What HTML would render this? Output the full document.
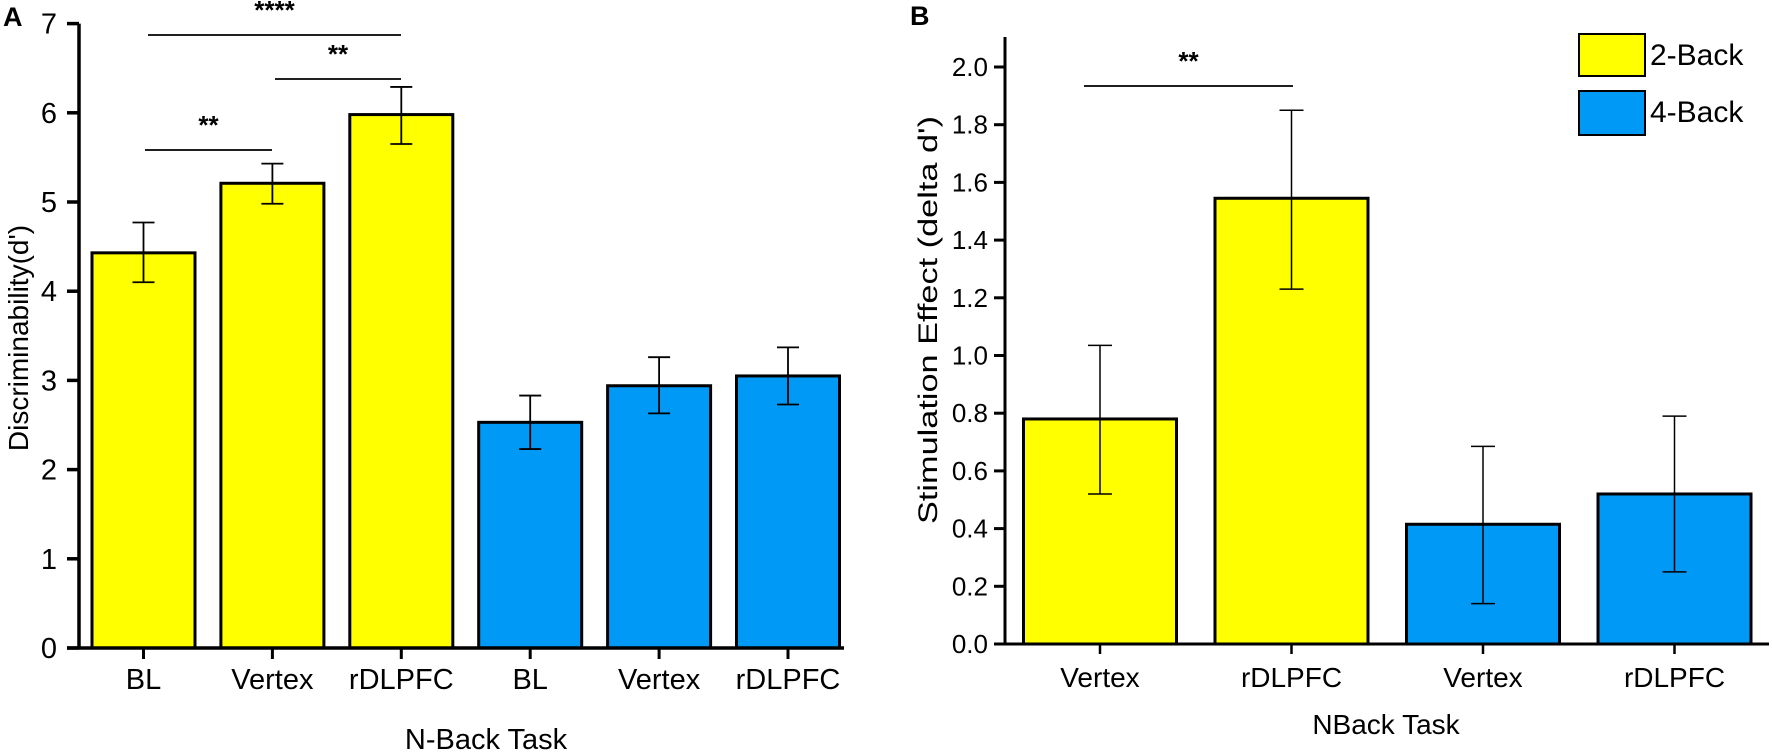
<!DOCTYPE html>
<html><head><meta charset="utf-8"><style>
html,body{margin:0;padding:0;background:#fff;}
svg{display:block;font-family:"Liberation Sans",Arial,sans-serif;}
</style></head><body>
<svg id="chart" width="1772" height="755" viewBox="0 0 1772 755" xmlns="http://www.w3.org/2000/svg"></svg>
<script>
// Panel A data
const catsA = ["BL","Vertex","rDLPFC","BL","Vertex","rDLPFC"];
const groupA = ["2","2","2","4","4","4"];
const valsA = [4.43, 5.21, 5.98, 2.53, 2.94, 3.05];
const loA = [4.10, 4.98, 5.65, 2.23, 2.63, 2.73];
const hiA = [4.77, 5.43, 6.29, 2.83, 3.26, 3.37];
const ticksA = [0,1,2,3,4,5,6,7];
// Panel B data
const catsB = ["Vertex","rDLPFC","Vertex","rDLPFC"];
const groupB = ["2","2","4","4"];
const valsB = [0.78, 1.545, 0.415, 0.52];
const loB = [0.52, 1.23, 0.14, 0.25];
const hiB = [1.035, 1.85, 0.685, 0.79];
const ticksB = [0.0,0.2,0.4,0.6,0.8,1.0,1.2,1.4,1.6,1.8,2.0];

const NS="http://www.w3.org/2000/svg";
const svg=document.getElementById('chart');
const YEL="#ffff00", BLU="#0099f5";
function mk(tag,attrs,parent){const e=document.createElementNS(NS,tag);for(const k in attrs)e.setAttribute(k,attrs[k]);(parent||svg).appendChild(e);return e;}
function txt(s,attrs,parent){const t=mk('text',attrs,parent);t.textContent=s;return t;}

// ---------- Panel A ----------
const gA=mk('g',{});


const yA=v=>648-v*89.2;
const xA0=79, stepA=128.9, bwA=103;
const xA=i=>143.5+i*stepA;
catsA.forEach((c,i)=>{
  const cx=xA(i);
  const r=mk('rect',{x:cx-bwA/2,y:yA(valsA[i]),width:bwA,height:yA(0)-yA(valsA[i]),fill:groupA[i]==="2"?YEL:BLU,stroke:"#000","stroke-width":3},gA);
  
  
  const e=mk('g',{stroke:"#000","stroke-width":1.8},gA);
  
  
  mk('line',{x1:cx,x2:cx,y1:yA(loA[i]),y2:yA(hiA[i])},e);
  mk('line',{x1:cx-11,x2:cx+11,y1:yA(loA[i]),y2:yA(loA[i])},e);
  mk('line',{x1:cx-11,x2:cx+11,y1:yA(hiA[i]),y2:yA(hiA[i])},e);
  mk('line',{x1:cx,x2:cx,y1:yA(0),y2:yA(0)+11,stroke:"#000","stroke-width":3},gA);
  const t=txt(c,{x:cx,y:689,"font-size":29,"text-anchor":"middle"},gA);
  
  
});
const axA=mk('g',{stroke:"#000","stroke-width":3.5},gA);


mk('line',{x1:xA0,x2:xA0,y1:yA(7),y2:yA(0)+1.5},axA);
mk('line',{x1:xA0-12,x2:844,y1:yA(0),y2:yA(0)},axA);
ticksA.forEach(v=>{
  mk('line',{x1:xA0-12,x2:xA0,y1:yA(v),y2:yA(v)},axA);
  const t=txt(String(v),{x:xA0-22,y:yA(v)+10,"font-size":29,"text-anchor":"end"},gA);
  
  
});
let t;
t=txt("Discriminability(d')",{x:0,y:0,"font-size":28,"text-anchor":"middle",transform:"translate(28,338) rotate(-90)"},gA);

t=txt("N-Back Task",{x:486,y:749,"font-size":29,"text-anchor":"middle"},gA);

t=txt("A",{x:3,y:26,"font-size":27,"font-weight":"bold"},gA);

function sig(g,x1,x2,y,label,name){
  const s=mk('g',{},g);
  
  
  mk('line',{x1:x1,x2:x2,y1:y,y2:y,stroke:"#000","stroke-width":1.8},s);
  txt(label,{x:(x1+x2)/2,y:y-16,"font-size":26,"text-anchor":"middle","font-weight":"bold"},s);
}
sig(gA,148,401,35,"****","sig-bl-rdlpfc");
sig(gA,275,401,79,"**","sig-vertex-rdlpfc");
sig(gA,145,272,150,"**","sig-bl-vertex");

// ---------- Panel B ----------
const gB=mk('g',{});


const yB=v=>644-v*288.5;
const xB0=1005, stepB=191.5, bwB=153;
const xB=i=>1100+i*stepB;
catsB.forEach((c,i)=>{
  const cx=xB(i);
  const r=mk('rect',{x:cx-bwB/2,y:yB(valsB[i]),width:bwB,height:yB(0)-yB(valsB[i]),fill:groupB[i]==="2"?YEL:BLU,stroke:"#000","stroke-width":3},gB);
  
  
  const e=mk('g',{stroke:"#000","stroke-width":1.5},gB);
  
  
  mk('line',{x1:cx,x2:cx,y1:yB(loB[i]),y2:yB(hiB[i])},e);
  mk('line',{x1:cx-12,x2:cx+12,y1:yB(loB[i]),y2:yB(loB[i])},e);
  mk('line',{x1:cx-12,x2:cx+12,y1:yB(hiB[i]),y2:yB(hiB[i])},e);
  mk('line',{x1:cx,x2:cx,y1:yB(0),y2:yB(0)+10,stroke:"#000","stroke-width":2.5},gB);
  const tt=txt(c,{x:cx,y:687,"font-size":28,"text-anchor":"middle"},gB);
  
  
});
const axB=mk('g',{stroke:"#000","stroke-width":3},gB);


mk('line',{x1:xB0,x2:xB0,y1:37,y2:yB(0)+1},axB);
mk('line',{x1:xB0-11,x2:1769,y1:yB(0),y2:yB(0)},axB);
ticksB.forEach(v=>{
  mk('line',{x1:xB0-11,x2:xB0,y1:yB(v),y2:yB(v)},axB);
  const tt=txt(v.toFixed(1),{x:988,y:yB(v)+9,"font-size":26,"text-anchor":"end"},gB);
  
  
});
t=txt("Stimulation Effect (delta d')",{x:0,y:0,"font-size":27,"text-anchor":"middle",textLength:408,lengthAdjust:"spacingAndGlyphs",transform:"translate(937,320) rotate(-90)"},gB);

t=txt("NBack Task",{x:1386,y:734,"font-size":28,"text-anchor":"middle"},gB);

t=txt("B",{x:910,y:25,"font-size":27,"font-weight":"bold"},gB);

sig(gB,1084,1293,86,"**","sig-vertex-rdlpfc-b");
// legend
const lg=mk('g',{},gB);


const le1=mk('g',{},lg);


mk('rect',{x:1579,y:34,width:66,height:42,fill:YEL,stroke:"#000","stroke-width":2},le1);
txt("2-Back",{x:1650,y:65,"font-size":30},le1);
const le2=mk('g',{},lg);


mk('rect',{x:1579,y:91,width:66,height:44,fill:BLU,stroke:"#000","stroke-width":2},le2);
txt("4-Back",{x:1650,y:122,"font-size":30},le2);
</script>
</body></html>
